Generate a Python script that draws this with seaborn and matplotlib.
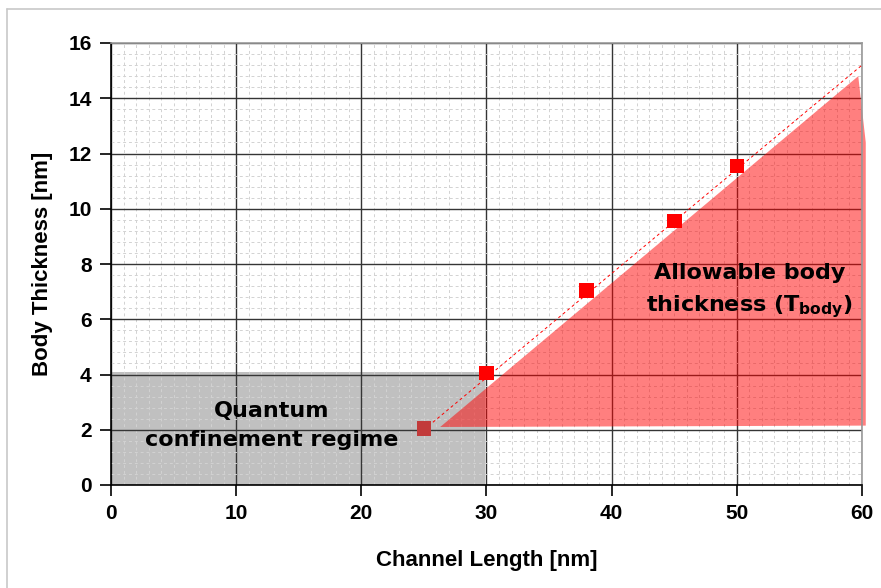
import matplotlib
matplotlib.use("Agg")
import matplotlib.pyplot as plt
import seaborn as sns
import pandas as pd
import numpy as np
from matplotlib.patches import Polygon, Rectangle
from matplotlib.lines import Line2D

# Measured body thickness vs. channel length
channel_length = [25, 30, 38, 45, 50]
body_thickness = [2.05, 4.05, 7.05, 9.55, 11.55]
regime = ["quantum", "classic", "classic", "classic", "classic"]

# Linear trend through the measurements
trend_x = [25.0, 60.0]
trend_y = [2.0, 15.2]

# Shaded regions
quantum_x = [0.0, 29.9]
quantum_y = [0.0, 4.1]
allowed_x = [26.3, 59.7, 60.3, 60.3]
allowed_y = [2.1, 14.8, 12.4, 2.15]

x_ticks = [0, 10, 20, 30, 40, 50, 60]
y_ticks = [0, 2, 4, 6, 8, 10, 12, 14, 16]

sns.set_theme(style="white")
plt.rcParams["font.family"] = ["Liberation Sans", "DejaVu Sans"]
plt.rcParams["text.color"] = "black"
plt.rcParams["axes.labelcolor"] = "black"
plt.rcParams["xtick.color"] = "black"
plt.rcParams["ytick.color"] = "black"
plt.rcParams["mathtext.fontset"] = "custom"
plt.rcParams["mathtext.bf"] = "DejaVu Sans:bold"
plt.rcParams["mathtext.rm"] = "DejaVu Sans"

fig = plt.figure(figsize=(8.81, 5.88), dpi=100)
ax = fig.add_axes([111 / 881, 1 - 485 / 588, (862 - 111) / 881, (485 - 43) / 588])

df = pd.DataFrame({"L": channel_length, "T": body_thickness, "regime": regime})
trend = pd.DataFrame({"L": trend_x, "T": trend_y})

# quantum confinement region (under the grid)
ax.add_patch(Rectangle((quantum_x[0], quantum_y[0]), quantum_x[1] - quantum_x[0],
                       quantum_y[1] - quantum_y[0], facecolor="#c0c0c0",
                       edgecolor="none", zorder=0.5))

ax.set_xlim(0, 60)
ax.set_ylim(0, 16)
ax.set_xticks(x_ticks)
ax.set_yticks(y_ticks)
ax.set_xticks(np.arange(0, 61, 1), minor=True)
ax.set_yticks(np.arange(0, 16.01, 0.4), minor=True)
ax.grid(which="minor", color="#d2d2d2", linestyle=(0, (3, 3)), linewidth=0.7, zorder=1)
ax.grid(which="major", color="#353535", linestyle="-", linewidth=1.0, zorder=1.2)
ax.set_axisbelow(True)

# allowable body thickness region (translucent, over the grid)
ax.add_patch(Polygon(list(zip(allowed_x, allowed_y)), closed=True,
                     facecolor=(1.0, 0.0, 0.0, 0.5), edgecolor="none", zorder=2,
                     clip_on=False))

sns.lineplot(data=trend, x="L", y="T", ax=ax, color="red", linewidth=0.7,
             linestyle=(0, (3, 3)), zorder=3)
sns.scatterplot(data=df, x="L", y="T", hue="regime", ax=ax, marker="s", s=110,
                palette={"quantum": "#c23b3b", "classic": "#ff0000"},
                edgecolor="none", legend=False, zorder=4)

for side in ["top", "right"]:
    ax.spines[side].set_visible(True)
    ax.spines[side].set_color("#9a9a9a")
    ax.spines[side].set_linewidth(1.2)
for side in ["left", "bottom"]:
    ax.spines[side].set_color("black")
    ax.spines[side].set_linewidth(1.2)

ax.tick_params(axis="both", which="major", direction="out", length=8, width=1.2,
               color="black", labelsize=15, pad=6, bottom=True, left=True)
ax.tick_params(axis="both", which="minor", length=0)
for lab in ax.get_xticklabels() + ax.get_yticklabels():
    lab.set_fontweight("bold")

ax.set_xlabel("Channel Length [nm]", fontsize=16, fontweight="bold", labelpad=19)
ax.set_ylabel("Body Thickness [nm]", fontsize=16, fontweight="bold", labelpad=11)

txt_kw = dict(fontsize=16, fontweight="bold", ha="center", va="center",
              family="DejaVu Sans", zorder=5, linespacing=1.55)
ax.text(12.8, 2.15, "Quantum\nconfinement regime", **txt_kw)
ax.text(51.0, 7.0, "Allowable body\nthickness (T$_{\\mathbf{body}}$)", **txt_kw)

# light frame along the top and left edge of the figure
fig.add_artist(Line2D([7 / 881, 1.0], [1 - 9 / 588, 1 - 9 / 588], color="#c8c8c8", lw=1.2))
fig.add_artist(Line2D([7 / 881, 7 / 881], [0.0, 1 - 9 / 588], color="#c8c8c8", lw=1.2))

fig.savefig("out.png", dpi=100)
